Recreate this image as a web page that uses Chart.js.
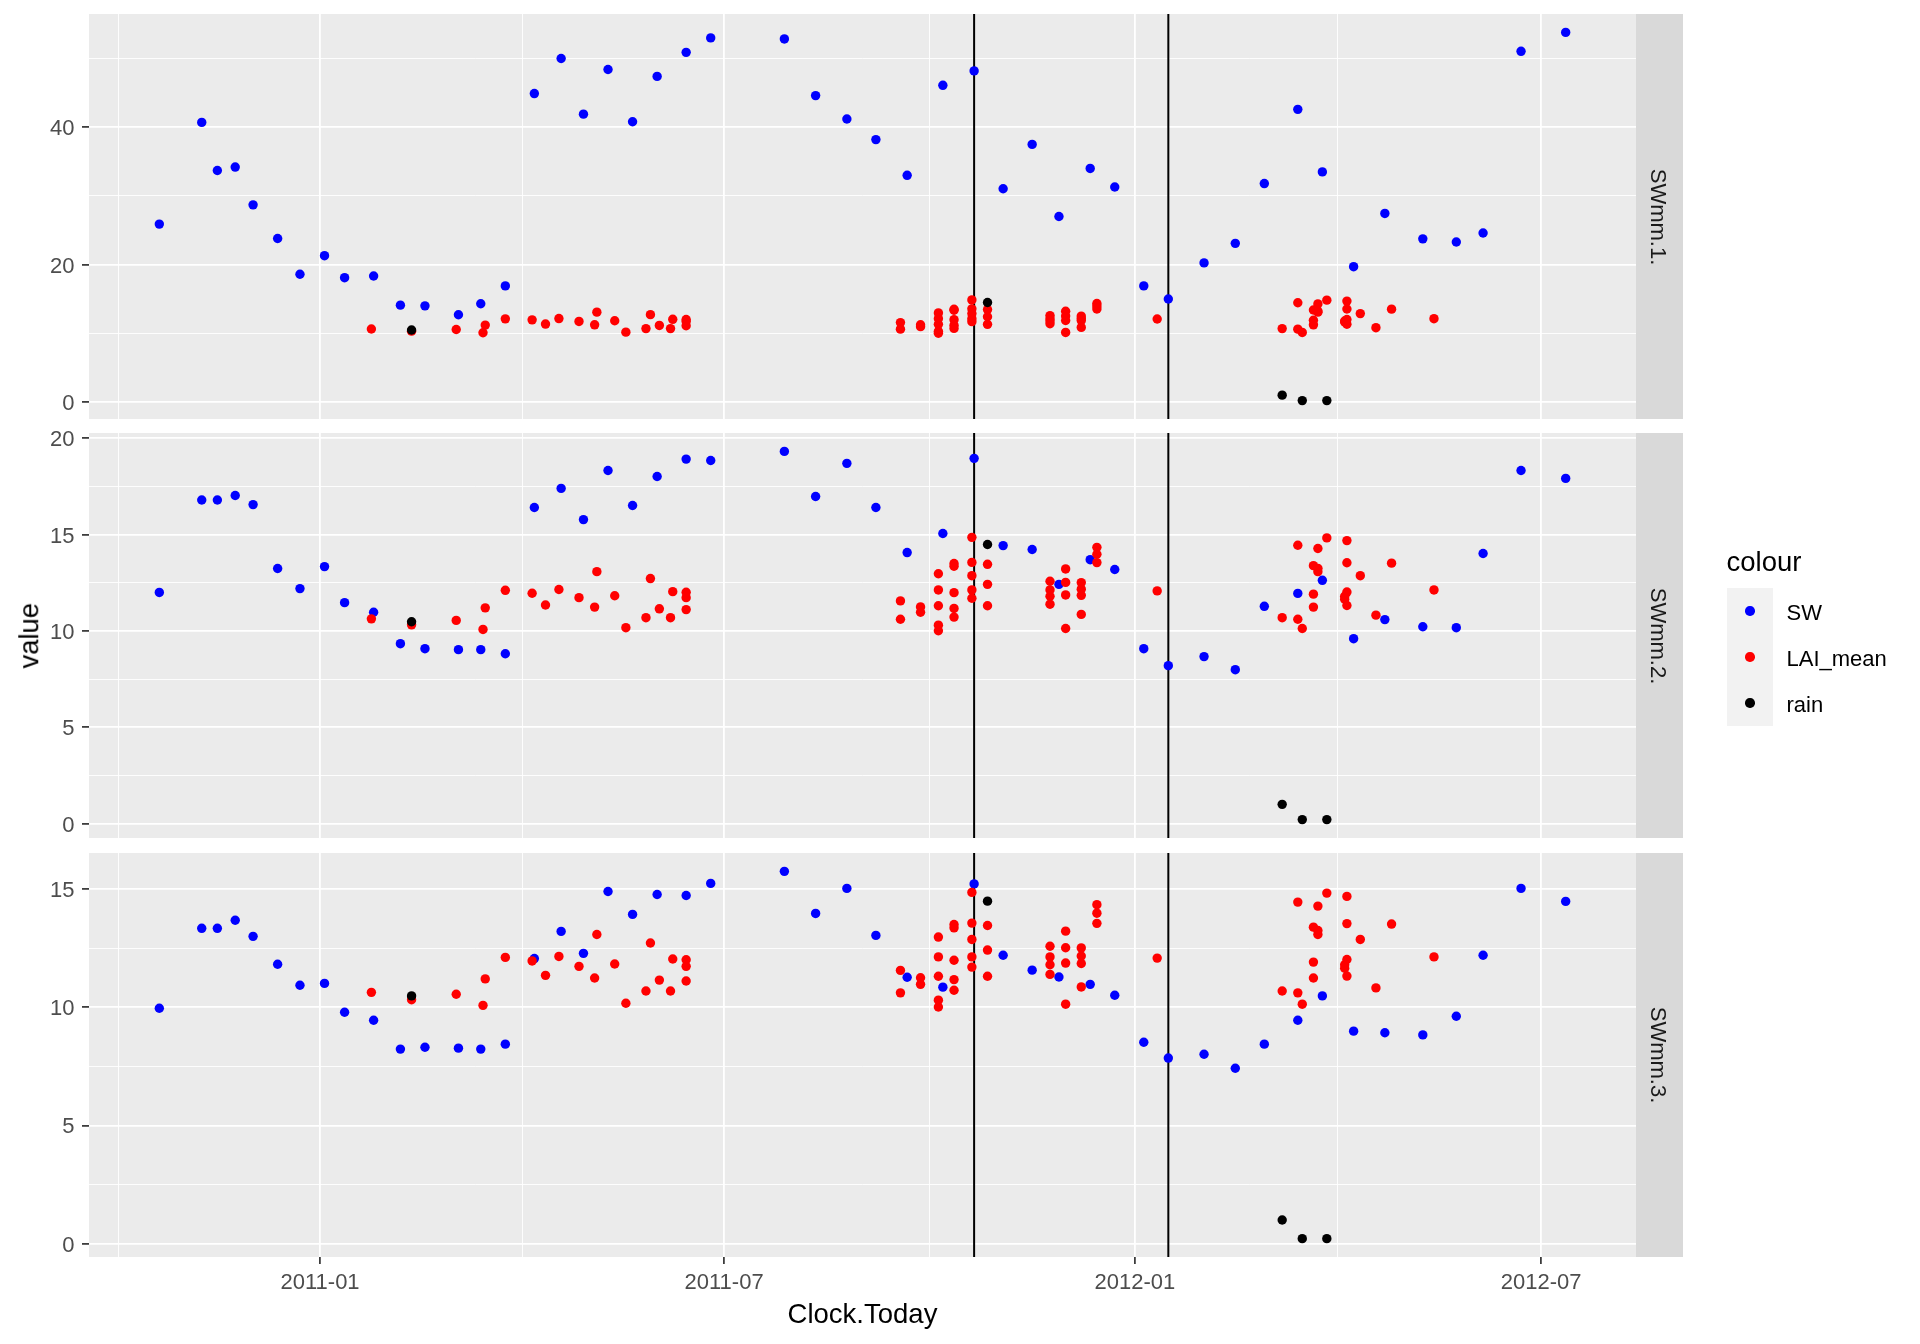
<!DOCTYPE html>
<html>
<head>
<meta charset="utf-8">
<script src="https://cdn.jsdelivr.net/npm/chart.js@4.4.1/dist/chart.umd.min.js"></script>
<style>
  html, body { margin: 0; padding: 0; background: #ffffff; }
  #wrap { position: relative; width: 1920px; height: 1344px; overflow: hidden;
          font-family: "Liberation Sans", Arial, Helvetica, sans-serif; }
  #wrap canvas { position: absolute; left: 0; top: 0; }
  .t { position: absolute; white-space: nowrap; line-height: 1; }
</style>
</head>
<body>
<div id="wrap">
  <canvas id="p0" width="1920" height="1344"></canvas>
  <canvas id="p1" width="1920" height="1344"></canvas>
  <canvas id="p2" width="1920" height="1344"></canvas>
</div>
<script>
// ---------------- DATA ----------------
const facetLabels = ['SWmm.1.', 'SWmm.2.', 'SWmm.3.'];
const seriesNames = ['SW', 'LAI_mean', 'rain'];
const seriesColors = ['#0000FF', '#FF0000', '#000000'];
const xTickLabels = ['2011-01', '2011-07', '2012-01', '2012-07'];
const yTicksSW1 = [0, 20, 40];
const yTicksSW2 = [0, 5, 10, 15, 20];
const yTicksSW3 = [0, 5, 10, 15];
const vlineDates = ['2011-10-21', '2012-01-16'];
const xTitle = 'Clock.Today';
const yTitle = 'value';
const legendTitle = 'colour';

const swDates = ['2010-10-21','2010-11-09','2010-11-16','2010-11-24','2010-12-02','2010-12-13','2010-12-23',
  '2011-01-03','2011-01-12','2011-01-25','2011-02-06','2011-02-17','2011-03-04','2011-03-14','2011-03-25',
  '2011-04-07','2011-04-19','2011-04-29','2011-05-10','2011-05-21','2011-06-01','2011-06-14','2011-06-25',
  '2011-07-28','2011-08-11','2011-08-25','2011-09-07','2011-09-21','2011-10-07','2011-10-21','2011-11-03',
  '2011-11-16','2011-11-28','2011-12-12','2011-12-23','2012-01-05','2012-01-16','2012-02-01','2012-02-15',
  '2012-02-28','2012-03-14','2012-03-25','2012-04-08','2012-04-22','2012-05-09','2012-05-24','2012-06-05',
  '2012-06-22','2012-07-12'];
const swmm1 = [25.9,40.7,33.7,34.2,28.7,23.8,18.6,21.3,18.1,18.35,14.1,14.0,12.7,14.3,16.9,44.9,50.0,41.9,48.4,
  40.8,47.4,50.9,53.0,52.85,44.6,41.2,38.2,33.0,46.1,48.2,31.05,37.5,27.0,34.0,31.3,16.9,15.0,20.25,23.1,31.8,
  42.6,33.5,19.7,27.45,23.75,23.3,24.6,51.05,53.8];
const swmm2 = [12.0,16.8,16.8,17.03,16.56,13.24,12.2,13.34,11.47,10.97,9.34,9.08,9.03,9.03,8.82,16.41,17.4,15.78,
  18.33,16.51,18.02,18.92,18.85,19.32,16.98,18.7,16.41,14.07,15.06,18.96,14.43,14.23,12.42,13.7,13.19,9.08,8.2,
  8.67,7.99,11.28,11.95,12.63,9.6,10.59,10.22,10.17,14.02,18.33,17.92];
const swmm3 = [9.96,13.34,13.34,13.68,13.0,11.82,10.93,11.01,9.79,9.45,8.23,8.31,8.27,8.23,8.44,12.06,13.21,12.28,
  14.9,13.93,14.77,14.73,15.24,15.75,13.97,15.03,13.04,11.27,10.85,15.22,12.2,11.57,11.28,10.97,10.51,8.52,7.85,
  8.01,7.42,8.44,9.45,10.48,8.99,8.92,8.83,9.62,12.2,15.03,14.48];

const laiDates = ['2011-01-24','2011-02-11','2011-03-03','2011-03-15','2011-03-16','2011-03-25','2011-04-06',
  '2011-04-12','2011-04-18','2011-04-27','2011-05-04','2011-05-05','2011-05-13','2011-05-18','2011-05-27',
  '2011-05-29','2011-06-02','2011-06-07','2011-06-08','2011-06-14','2011-06-14','2011-06-14',
  '2011-09-18','2011-09-18','2011-09-27','2011-09-27',
  '2011-10-05','2011-10-05','2011-10-05','2011-10-05','2011-10-05',
  '2011-10-12','2011-10-12','2011-10-12','2011-10-12','2011-10-12',
  '2011-10-20','2011-10-20','2011-10-20','2011-10-20','2011-10-20',
  '2011-10-27','2011-10-27','2011-10-27',
  '2011-11-24','2011-11-24','2011-11-24','2011-11-24',
  '2011-12-01','2011-12-01','2011-12-01','2011-12-01',
  '2011-12-08','2011-12-08','2011-12-08','2011-12-08',
  '2011-12-15','2011-12-15','2011-12-15','2012-01-11',
  '2012-03-07','2012-03-14','2012-03-14','2012-03-16','2012-03-21','2012-03-21','2012-03-21',
  '2012-03-23','2012-03-23','2012-03-23','2012-03-27','2012-04-04','2012-04-04',
  '2012-04-05','2012-04-05','2012-04-05','2012-04-05','2012-04-11','2012-04-18','2012-04-25','2012-05-14'];
const laiValues = [10.63,10.32,10.55,10.08,11.2,12.11,11.96,11.35,12.15,11.73,11.24,13.08,11.83,10.17,10.69,
  12.72,11.15,10.69,12.04,12.01,11.73,11.11,
  11.56,10.61,11.25,10.97,
  12.97,12.13,11.31,10.30,10.01,
  13.50,13.36,11.99,11.17,10.72,
  14.86,13.56,12.87,12.13,11.70,
  13.46,12.42,11.31,
  12.58,12.13,11.80,11.39,
  13.22,12.52,11.87,10.13,
  12.51,12.17,11.85,10.86,
  14.34,13.98,13.55,12.08,
  10.69,14.45,10.61,10.13,11.91,11.24,13.39,
  14.28,13.25,13.08,14.83,11.80,11.65,
  14.69,13.54,12.02,11.32,12.87,10.82,13.52,12.13];

const rainDates = ['2011-02-11','2011-10-27','2012-03-07','2012-03-16','2012-03-27'];
const rainValues = [10.48, 14.49, 1.0, 0.21, 0.21];

// ---------------- LAYOUT / STYLE ----------------
const FONT = '"Liberation Sans", Arial, Helvetica, sans-serif';
const LAYOUT = {
  W: 1920, H: 1344, left: 89, right: 1636, stripW: 47,
  panels: [{top: 14, bottom: 419}, {top: 433, bottom: 838}, {top: 853, bottom: 1257}]
};
const STYLE = {
  panelBg: '#EBEBEB', stripBg: '#D9D9D9', grid: '#FFFFFF',
  majorW: 1.8, minorW: 0.9, tickCol: '#333333', tickW: 1.7, tickLen: 7,
  tickText: '#4D4D4D', pointR: 4.7, vlineW: 2
};

function dayNum(s) {
  const p = s.split('-').map(Number);
  return Date.UTC(p[0], p[1] - 1, p[2] || 1) / 86400000;
}
function minorBreaks(major, lo, hi) {
  const b = major.slice();
  const bd = b[1] - b[0];
  if (lo < b[0]) b.unshift(b[0] - bd);
  if (hi > b[b.length - 1]) b.push(b[b.length - 1] + bd);
  const out = [];
  for (let i = 0; i < b.length - 1; i++) {
    const m = (b[i] + b[i + 1]) / 2;
    if (m >= lo && m <= hi) out.push(m);
  }
  return out;
}
function pts(dates, vals) { return dates.map((d, i) => ({x: dayNum(d), y: vals[i]})); }

const swSeries = [swmm1, swmm2, swmm3];
const yTickSets = [yTicksSW1, yTicksSW2, yTicksSW3];

const allDays = swDates.concat(laiDates, rainDates).map(dayNum);
const xLo = Math.min(...allDays), xHi = Math.max(...allDays);
const xMin = xLo - 0.05 * (xHi - xLo), xMax = xHi + 0.05 * (xHi - xLo);
const xMajor = xTickLabels.map(l => dayNum(l + '-01'));
const xMinor = minorBreaks(xMajor, xMin, xMax);
const xMinorSet = new Set(xMinor);
const xLabelMap = new Map(xMajor.map((d, i) => [d, xTickLabels[i]]));
const xTickVals = xMajor.concat(xMinor).filter(v => v >= xMin && v <= xMax).sort((a, b) => a - b);

const panelDecor = {
  id: 'panelDecor',
  beforeDraw(chart) {
    const a = chart.chartArea, ctx = chart.ctx;
    ctx.save();
    ctx.fillStyle = STYLE.panelBg;
    ctx.fillRect(a.left, a.top, a.right - a.left, a.bottom - a.top);
    ctx.fillStyle = STYLE.stripBg;
    ctx.fillRect(a.right, a.top, LAYOUT.stripW, a.bottom - a.top);
    ctx.restore();
  },
  beforeDatasetsDraw(chart) {
    const a = chart.chartArea, ctx = chart.ctx, xs = chart.scales.x;
    ctx.save();
    ctx.strokeStyle = '#000000';
    ctx.lineWidth = STYLE.vlineW;
    vlineDates.forEach(d => {
      const px = xs.getPixelForValue(dayNum(d));
      ctx.beginPath();
      ctx.moveTo(px, a.top);
      ctx.lineTo(px, a.bottom);
      ctx.stroke();
    });
    ctx.restore();
  }
};

function zeroPad(s) { s.paddingLeft = 0; s.paddingRight = 0; s.paddingTop = 0; s.paddingBottom = 0; }

function makePanel(i) {
  const P = LAYOUT.panels[i];
  const sw = swSeries[i];
  const vals = sw.concat(laiValues, rainValues);
  const lo = Math.min(...vals), hi = Math.max(...vals), pad = 0.05 * (hi - lo);
  const yMin = lo - pad, yMax = hi + pad;
  const yMajor = yTickSets[i];
  const yMinor = minorBreaks(yMajor, yMin, yMax);
  const yMinorSet = new Set(yMinor);
  const yTickVals = yMajor.concat(yMinor).filter(v => v >= yMin && v <= yMax).sort((a, b) => a - b);
  const showX = i === facetLabels.length - 1;

  const mk = (name, idx, data) => ({
    label: name, data: data,
    backgroundColor: seriesColors[idx], borderColor: seriesColors[idx],
    borderWidth: 0, pointRadius: STYLE.pointR, pointHoverRadius: STYLE.pointR,
    pointBorderWidth: 0, showLine: false
  });

  return new Chart(document.getElementById('p' + i), {
    type: 'scatter',
    data: {
      datasets: [
        mk(seriesNames[2], 2, pts(rainDates, rainValues)),
        mk(seriesNames[1], 1, pts(laiDates, laiValues)),
        mk(seriesNames[0], 0, pts(swDates, sw))
      ]
    },
    plugins: [panelDecor],
    options: {
      responsive: false, animation: false, events: [],
      layout: { padding: { left: 0, right: LAYOUT.W - LAYOUT.right, top: P.top,
                           bottom: showX ? 0 : LAYOUT.H - P.bottom } },
      plugins: { legend: { display: false }, tooltip: { enabled: false }, title: { display: false } },
      scales: {
        x: {
          type: 'linear', position: 'bottom', min: xMin, max: xMax,
          afterBuildTicks: s => { s.ticks = xTickVals.map(v => ({value: v})); },
          afterFit: s => { s.height = showX ? LAYOUT.H - P.bottom : 0; zeroPad(s); },
          border: { display: false },
          grid: {
            color: STYLE.grid,
            lineWidth: c => (c.tick && xMinorSet.has(c.tick.value)) ? STYLE.minorW : STYLE.majorW,
            drawTicks: showX, tickLength: STYLE.tickLen,
            tickColor: c => (c.tick && xMinorSet.has(c.tick.value)) ? 'rgba(0,0,0,0)' : STYLE.tickCol,
            tickWidth: STYLE.tickW
          },
          ticks: {
            display: showX, autoSkip: false, maxRotation: 0, minRotation: 0, padding: 5.5,
            color: STYLE.tickText, font: { family: FONT, size: 22 },
            callback: v => xLabelMap.get(v) || ''
          }
        },
        y: {
          type: 'linear', position: 'left', min: yMin, max: yMax,
          afterBuildTicks: s => { s.ticks = yTickVals.map(v => ({value: v})); },
          afterFit: s => { s.width = LAYOUT.left; zeroPad(s); },
          border: { display: false },
          grid: {
            color: STYLE.grid,
            lineWidth: c => (c.tick && yMinorSet.has(c.tick.value)) ? STYLE.minorW : STYLE.majorW,
            drawTicks: true, tickLength: STYLE.tickLen,
            tickColor: c => (c.tick && yMinorSet.has(c.tick.value)) ? 'rgba(0,0,0,0)' : STYLE.tickCol,
            tickWidth: STYLE.tickW
          },
          ticks: {
            autoSkip: false, padding: 7.5, labelOffset: 2,
            color: STYLE.tickText, font: { family: FONT, size: 22 },
            callback: v => yMinorSet.has(v) ? '' : String(v)
          }
        }
      }
    }
  });
}

facetLabels.forEach((_, i) => makePanel(i));

// ---------------- TEXT (titles, strips, legend) ----------------
const wrap = document.getElementById('wrap');
function addText(txt, css) {
  const d = document.createElement('div');
  d.className = 't';
  d.textContent = txt;
  Object.assign(d.style, css);
  wrap.appendChild(d);
  return d;
}
// strip labels
facetLabels.forEach((lab, i) => {
  const P = LAYOUT.panels[i];
  const cy = (P.top + P.bottom) / 2, cx = LAYOUT.right + LAYOUT.stripW / 2 - 1.5;
  addText(lab, { left: (cx - 100) + 'px', top: (cy - 11) + 'px', width: '200px', height: '22px',
    fontSize: '22px', textAlign: 'center', color: '#1A1A1A', transform: 'rotate(90deg)' });
});
// axis titles
addText(xTitle, { left: ((LAYOUT.left + LAYOUT.right) / 2 - 200) + 'px', top: '1299.5px', width: '400px',
  fontSize: '27.5px', textAlign: 'center', color: '#000000' });
const ycy = (LAYOUT.panels[0].top + LAYOUT.panels[2].bottom) / 2;
addText(yTitle, { left: (28.5 - 100) + 'px', top: (ycy - 13.75) + 'px', width: '200px', height: '27.5px',
  fontSize: '27.5px', textAlign: 'center', color: '#000000', transform: 'rotate(-90deg)' });
// legend
addText(legendTitle, { left: '1726.5px', top: '548.4px', fontSize: '27.5px', color: '#000000' });
const keyBg = document.createElement('div');
Object.assign(keyBg.style, { position: 'absolute', left: '1727px', top: '588.3px', width: '45.6px',
  height: '137.4px', background: '#F2F2F2' });
wrap.appendChild(keyBg);
seriesNames.forEach((nm, i) => {
  const cy = 611 + i * 46;
  const dot = document.createElement('div');
  Object.assign(dot.style, { position: 'absolute', left: (1750 - STYLE.pointR) + 'px',
    top: (cy - STYLE.pointR) + 'px', width: (2 * STYLE.pointR) + 'px', height: (2 * STYLE.pointR) + 'px',
    borderRadius: '50%', background: seriesColors[i] });
  wrap.appendChild(dot);
  addText(nm, { left: '1786.5px', top: (cy - 9.2) + 'px', fontSize: '22px', color: '#000000' });
});
</script>
</body>
</html>
